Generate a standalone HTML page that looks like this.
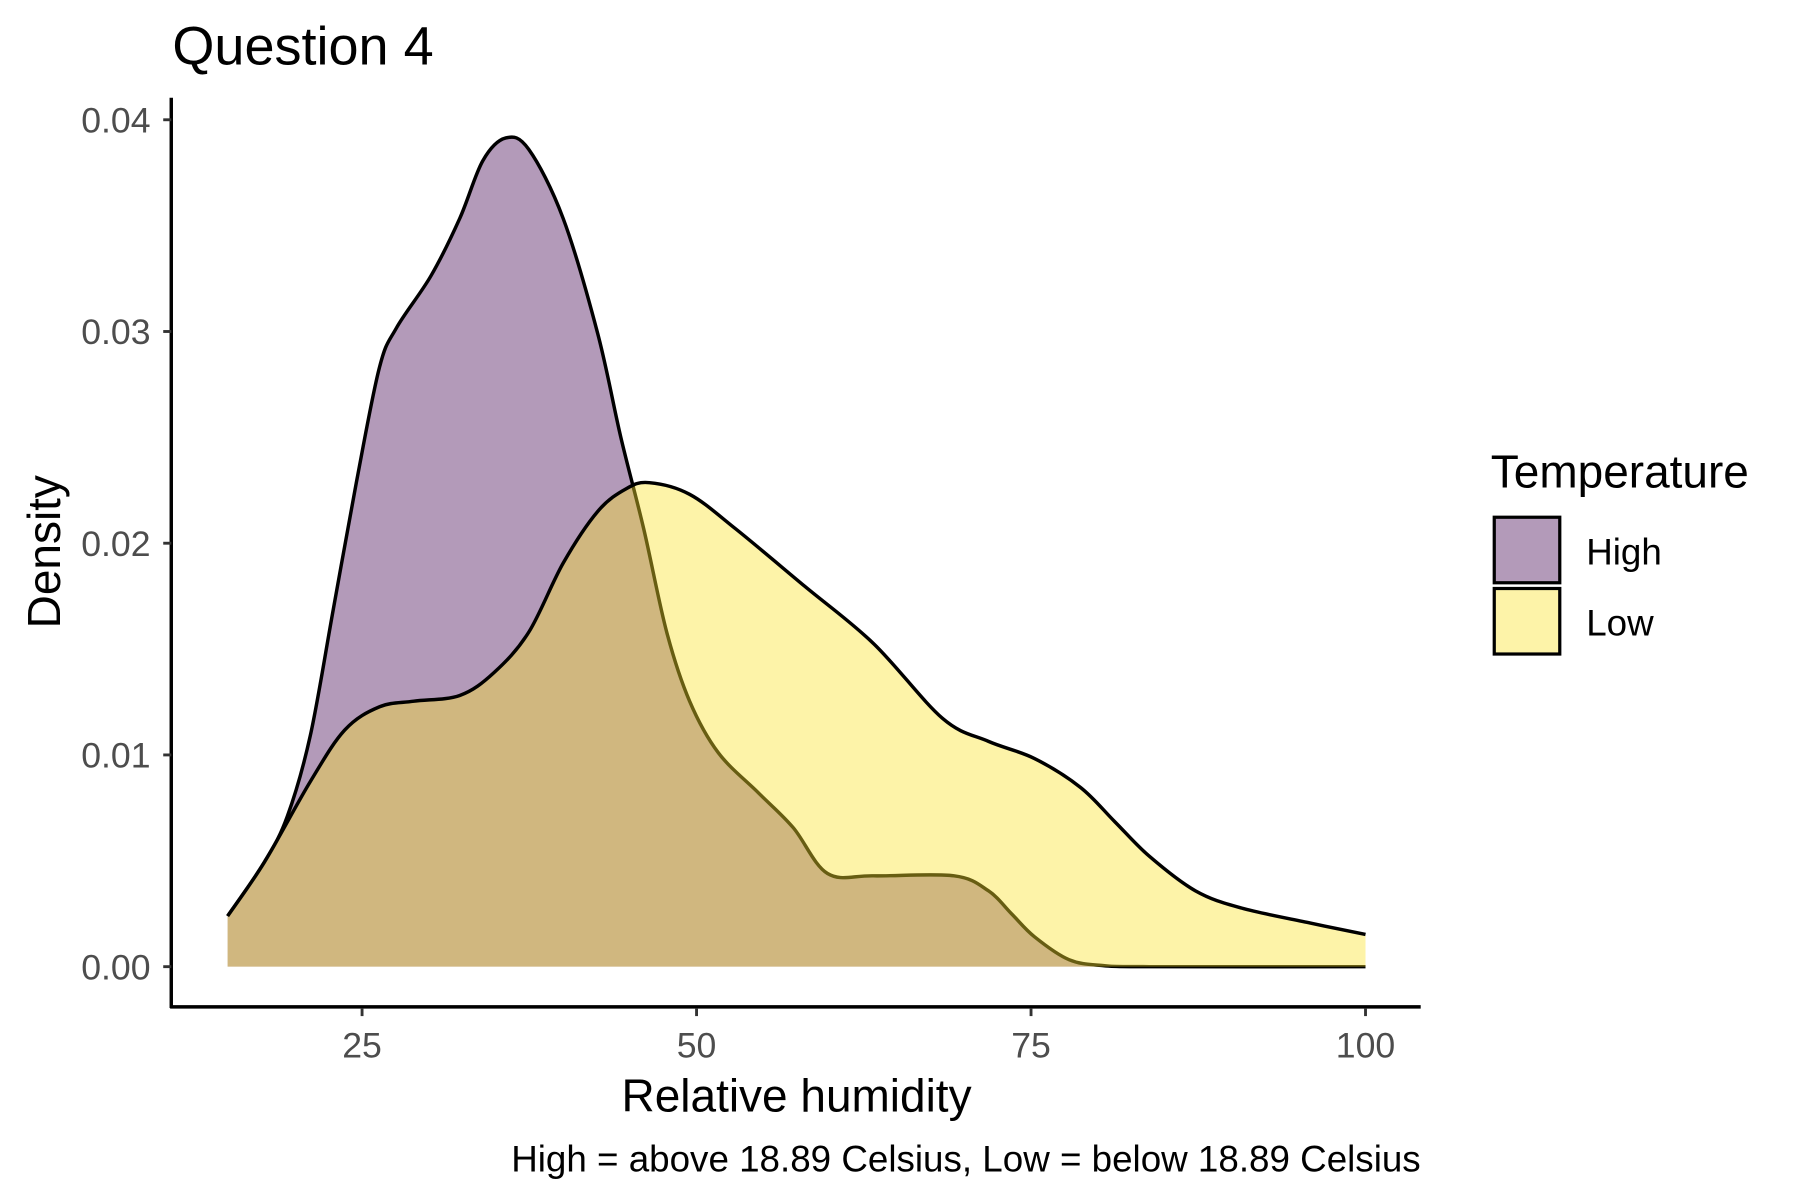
<!DOCTYPE html>
<html><head><meta charset="utf-8"><style>
html,body{margin:0;padding:0;background:#fff;}
svg{display:block;font-family:"Liberation Sans",Arial,sans-serif;}
</style></head><body>
<svg id="chart" width="1800" height="1200" viewBox="0 0 1566 1044" preserveAspectRatio="none" xmlns="http://www.w3.org/2000/svg">
<rect width="1566" height="1044" fill="#fff"/>
<text x="150" y="56" font-size="47" fill="#000">Question 4</text>
<g id="plot"></g>
<line x1="149" y1="85" x2="149" y2="877" stroke="#000" stroke-width="3"/>
<line x1="148" y1="876" x2="1236" y2="876" stroke="#000" stroke-width="3"/>
<g id="yticks"></g>
<g id="xticks"></g>
<text x="693" y="967" font-size="40" text-anchor="middle" fill="#000">Relative humidity</text>
<text transform="translate(52,480) rotate(-90)" font-size="40" text-anchor="middle" fill="#000">Density</text>
<text x="1236" y="1019" font-size="32" text-anchor="end" fill="#000">High = above 18.89 Celsius, Low = below 18.89 Celsius</text>
<g>
<text x="1297" y="424" font-size="40" fill="#000">Temperature</text>
<rect x="1300" y="450" width="57" height="57" fill="#b39ab9" stroke="#000" stroke-width="2.8"/>
<rect x="1300" y="512" width="57" height="57" fill="#fdf3a8" stroke="#000" stroke-width="2.8"/>
<text x="1380" y="491" font-size="32" fill="#000">High</text>
<text x="1380" y="553" font-size="32" fill="#000">Low</text>
</g>
</svg>
<script>
const highX=[14.95,17.7,19.42,21.13,22.85,24.57,26.29,27.58,30.15,32.3,34.02,35.74,37.46,40.03,42.61,44.33,46.05,47.77,49.48,51.63,54.64,57.22,59.79,63.23,69.24,71.82,73.54,75.26,77.84,80.41,83.85,100];
const highY=[0.00239,0.00494,0.00711,0.01091,0.01688,0.02286,0.02828,0.03018,0.03263,0.03534,0.03806,0.03914,0.0386,0.03534,0.02991,0.02503,0.02068,0.0158,0.01254,0.0101,0.0082,0.00657,0.0044,0.00429,0.00429,0.00358,0.0025,0.00141,0.00033,0.00005,0,0];
const lowX=[14.95,17.7,21.13,23.71,26.29,28.87,32.3,34.88,37.46,40.03,42.61,44.76,46.48,49.48,52.92,58.08,63.23,68.38,71.82,75.26,78.69,81.27,83.85,87.29,90.72,95.88,100];
const lowY=[0.00239,0.00494,0.00874,0.01118,0.01227,0.01254,0.01281,0.0139,0.0158,0.01906,0.0215,0.02258,0.02286,0.02231,0.02068,0.01797,0.01526,0.01173,0.01064,0.00983,0.00847,0.00684,0.00521,0.00358,0.00277,0.00206,0.00152];
const xTicks=[25,50,75,100];
const yTicks=[0,0.01,0.02,0.03,0.04];
const yTickLabels=["0.00","0.01","0.02","0.03","0.04"];
const sx=v=>24+v*11.64;
const sy=v=>841-v*18420;
const NS="http://www.w3.org/2000/svg";
function smooth(xs,ys){
  const p=xs.map((x,i)=>[sx(x),sy(ys[i])]);
  let d="M"+p[0][0]+","+p[0][1];
  for(let i=0;i<p.length-1;i++){
    const p0=p[Math.max(0,i-1)],p1=p[i],p2=p[i+1],p3=p[Math.min(p.length-1,i+2)];
    const c1=[p1[0]+(p2[0]-p0[0])/6,p1[1]+(p2[1]-p0[1])/6];
    const c2=[p2[0]-(p3[0]-p1[0])/6,p2[1]-(p3[1]-p1[1])/6];
    d+=" C"+c1[0]+","+c1[1]+" "+c2[0]+","+c2[1]+" "+p2[0]+","+p2[1];
  }
  return d;
}
const plot=document.getElementById('plot');
function area(xs,ys,fill,op,name){
  const line=smooth(xs,ys);
  const a=document.createElementNS(NS,'path');
  a.setAttribute('d',line+" L"+sx(xs[xs.length-1])+","+sy(0)+" L"+sx(xs[0])+","+sy(0)+" Z");
  a.setAttribute('fill',fill);a.setAttribute('fill-opacity',op);
  
  
  plot.appendChild(a);
  const l=document.createElementNS(NS,'path');
  l.setAttribute('d',line);l.setAttribute('fill','none');l.setAttribute('stroke','#000');l.setAttribute('stroke-width','3');
  l.setAttribute('stroke-linejoin','round');
  
  
  plot.appendChild(l);
  return a;
}
area(highX,highY,'#b39ab9',1,'high-density');
area(lowX,lowY,'rgb(250,226,43)',0.41,'low-density');
const yt=document.getElementById('yticks');
yTicks.forEach((v,i)=>{
  const t=document.createElementNS(NS,'line');
  t.setAttribute('x1',142);t.setAttribute('x2',149);t.setAttribute('y1',sy(v));t.setAttribute('y2',sy(v));
  t.setAttribute('stroke','#333');t.setAttribute('stroke-width','2.5');
  
  
  yt.appendChild(t);
  const s=document.createElementNS(NS,'text');
  s.setAttribute('x',131);s.setAttribute('y',sy(v)+11);s.setAttribute('text-anchor','end');
  s.setAttribute('font-size','31');s.setAttribute('fill','#4d4d4d');
  s.textContent=yTickLabels[i];
  
  
  yt.appendChild(s);
});
const xt=document.getElementById('xticks');
xTicks.forEach(v=>{
  const t=document.createElementNS(NS,'line');
  t.setAttribute('x1',sx(v));t.setAttribute('x2',sx(v));t.setAttribute('y1',877);t.setAttribute('y2',884);
  t.setAttribute('stroke','#333');t.setAttribute('stroke-width','2.5');
  
  
  xt.appendChild(t);
  const s=document.createElementNS(NS,'text');
  s.setAttribute('x',sx(v));s.setAttribute('y',920);s.setAttribute('text-anchor','middle');
  s.setAttribute('font-size','31');s.setAttribute('fill','#4d4d4d');
  s.textContent=String(v);
  
  
  xt.appendChild(s);
});
</script>
</body></html>
